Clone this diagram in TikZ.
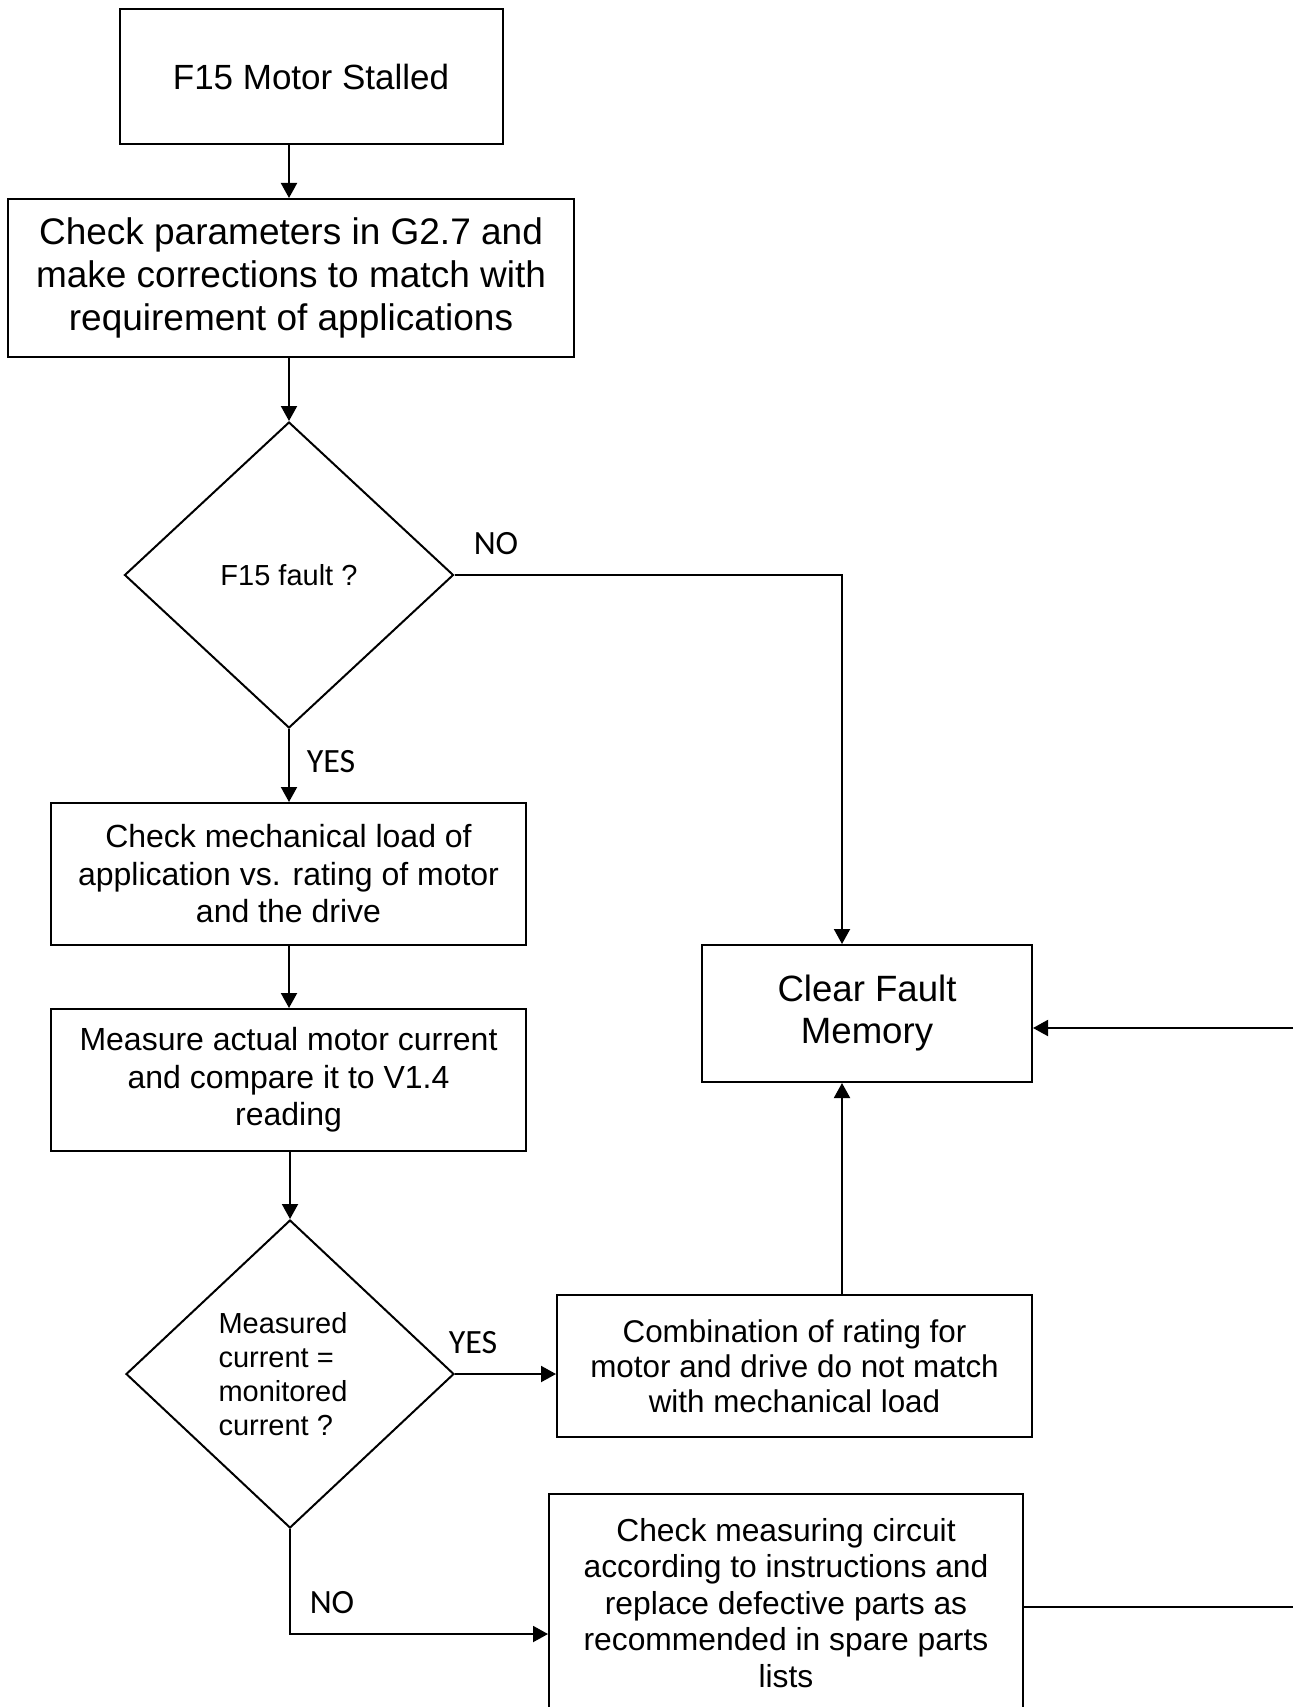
\documentclass[tikz,border=0pt]{standalone}
\usepackage{fontspec}
\setmainfont{Liberation Sans}
\newfontfamily\answerfont{Carlito}
\usetikzlibrary{shapes.geometric,arrows.meta}

\tikzset{
  box/.style={draw, line width=2pt, inner sep=0pt, align=center},
  decision/.style={draw, diamond, line width=2pt, inner sep=0pt, align=center},
  flow/.style={line width=2pt, -{Triangle[length=15pt,width=16pt]}},
  plain/.style={line width=2pt},
  answer/.style={font=\answerfont\fontsize{34}{40}\selectfont},
}

\begin{document}
\begin{tikzpicture}[x=1pt,y=1pt,yscale=-1]
\useasboundingbox (0,0) rectangle (1293,1707);

%Shape: Rectangle
\node[box, minimum width=383pt, minimum height=135pt, font=\fontsize{35}{40}\selectfont] (start) at (311,76.5) {F15 Motor Stalled};
%Shape: Rectangle
\node[box, minimum width=566pt, minimum height=158pt, font=\fontsize{37}{43}\selectfont] (param) at (291,278) {Check parameters in G2.7 and\\make corrections to match with\\requirement of applications};
%Shape: Diamond
\node[decision, minimum width=329pt, minimum height=306pt, font=\fontsize{29}{34}\selectfont] (fault) at (289,575) {F15 fault ?};
%Shape: Rectangle
\node[box, minimum width=475pt, minimum height=142pt, font=\fontsize{32}{37.5}\selectfont] (load) at (288.5,874) {Check mechanical load of\\application vs. rating of motor\\and the drive};
%Shape: Rectangle
\node[box, minimum width=475pt, minimum height=142pt, font=\fontsize{32}{37.5}\selectfont] (meas) at (288.5,1080) {Measure actual motor current\\and compare it to V1.4\\reading};
%Shape: Diamond
\node[decision, minimum width=328pt, minimum height=308pt, align=left, font=\fontsize{29}{34}\selectfont] (equal) at (290,1374) {Measured\\current =\\monitored\rule{14pt}{0pt}\\current ?};
%Shape: Rectangle
\node[box, minimum width=330pt, minimum height=137pt, font=\fontsize{36.6}{42}\selectfont] (clear) at (867,1013.5) {Clear Fault\\Memory};
%Shape: Rectangle
\node[box, minimum width=475pt, minimum height=142pt, font=\fontsize{31.4}{35}\selectfont] (combi) at (794.5,1366) {Combination of rating for\\motor and drive do not match\\with mechanical load};
%Shape: Rectangle
\node[box, minimum width=474pt, minimum height=218pt, font=\fontsize{31.8}{36.5}\selectfont] (circuit) at (786,1603) {Check measuring circuit\\according to instructions and\\replace defective parts as\\recommended in spare parts\\lists};

\coordinate (bend) at (842,575);
\coordinate (elbow) at (290,1634);
\coordinate (edgeA) at (1293,1028);
\coordinate (edgeB) at (1293,1607);

%Straight Lines
\draw[flow] (start.south -| fault.north) -- (fault.north |- param.north);
\draw[flow] (param.south -| fault.north) -- (fault.north);
\draw[flow] (fault.south) -- (fault.south |- load.north);
\draw[flow] (load.south -| fault.south) -- (meas.north -| fault.south);
\draw[flow] (equal.north |- meas.south) -- (equal.north);
\draw[flow] (fault.east) -- (bend) -- (bend |- clear.north);
\draw[flow] (combi.north -| bend) -- (bend |- clear.south);
\draw[flow] (edgeA) -- (edgeA -| clear.east);
\draw[plain] (circuit.east |- edgeB) -- (edgeB);
\draw[flow] (equal.east) -- (equal.east -| combi.west);
\draw[flow] (equal.south) -- (elbow) -- (elbow -| circuit.west);

% Text Node
\node[answer] (no1) at (496,544) {NO};
% Text Node
\node[answer] (yes1) at (331,762) {YES};
% Text Node
\node[answer] (yes2) at (473,1343) {YES};
% Text Node
\node[answer] (no2) at (332,1603) {NO};
\end{tikzpicture}
\end{document}
